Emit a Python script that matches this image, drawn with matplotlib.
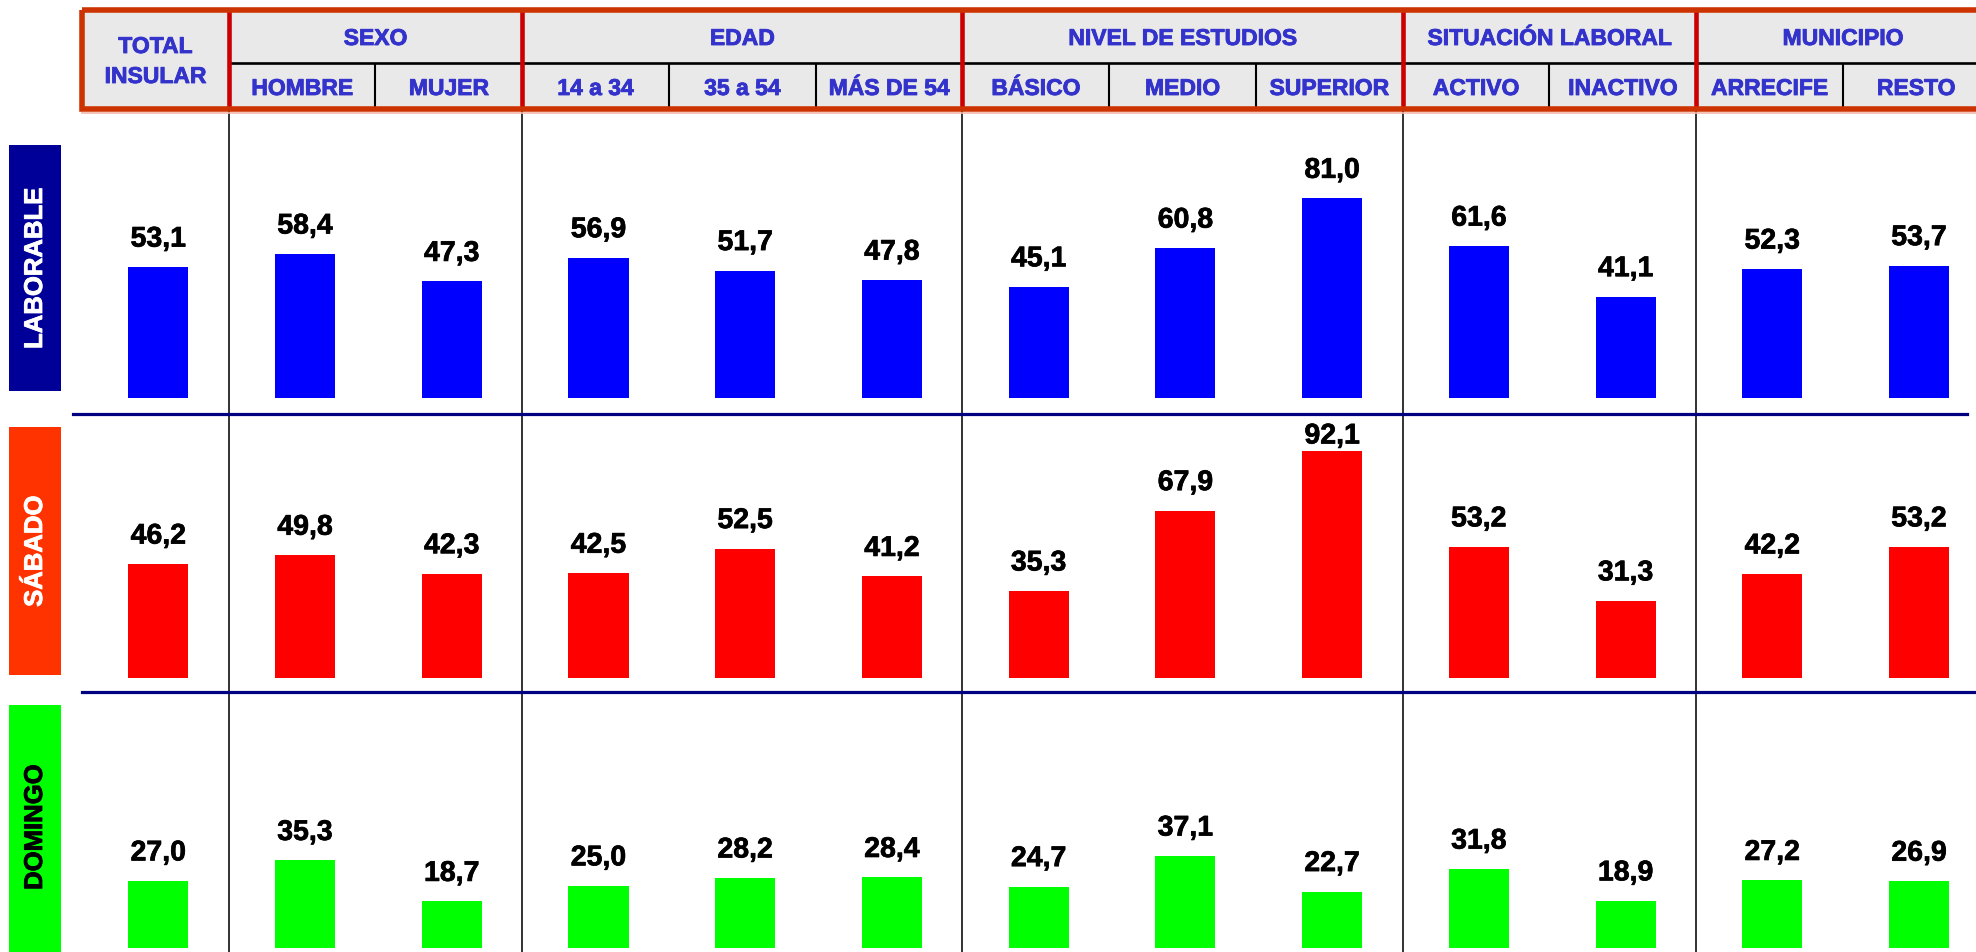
import matplotlib
matplotlib.use("Agg")
import matplotlib.pyplot as plt
import matplotlib.patheffects as pe
from matplotlib.patches import Rectangle

plt.rcParams['font.family'] = ['Liberation Sans', 'DejaVu Sans']

# ---------------- data ----------------
categories = ["TOTAL\nINSULAR", "HOMBRE", "MUJER", "14 a 34", "35 a 54", "MÁS DE 54",
              "BÁSICO", "MEDIO", "SUPERIOR", "ACTIVO", "INACTIVO", "ARRECIFE", "RESTO"]
groups = ["SEXO", "EDAD", "NIVEL DE ESTUDIOS", "SITUACIÓN LABORAL", "MUNICIPIO"]
group_sizes = [2, 3, 3, 2, 2]
row_labels = ["LABORABLE", "SÁBADO", "DOMINGO"]
laborable = [53.1, 58.4, 47.3, 56.9, 51.7, 47.8, 45.1, 60.8, 81.0, 61.6, 41.1, 52.3, 53.7]
sabado = [46.2, 49.8, 42.3, 42.5, 52.5, 41.2, 35.3, 67.9, 92.1, 53.2, 31.3, 42.2, 53.2]
domingo = [27.0, 35.3, 18.7, 25.0, 28.2, 28.4, 24.7, 37.1, 22.7, 31.8, 18.9, 27.2, 26.9]

# ---------------- layout (pixels) ----------------
W, H = 1976, 953
X0, CW = 82.0, 146.73
HEAD_TOP, HEAD_MID, HEAD_BOT = 10.5, 64.3, 109.5
PX_PER_UNIT = 2.465
HEAD_COLOR = '#3333CC'


def heavy(color, w=0.7):
    return [pe.withStroke(linewidth=w, foreground=color)]


fig = plt.figure(figsize=(W / 100, H / 100), dpi=100)

over = fig.add_axes([0, 0, 1, 1])
over.set_xlim(0, W)
over.set_ylim(H, 0)
over.axis('off')


def colx(i):
    return X0 + (i + 0.5) * CW


def edge(k):
    return X0 + k * CW


# header background
over.add_patch(Rectangle((X0, HEAD_TOP), W, HEAD_BOT - HEAD_TOP,
                         facecolor='#E9E9E9', edgecolor='none', zorder=1))
# group boundaries
bounds = [1]
for s in group_sizes:
    bounds.append(bounds[-1] + s)
group_edges = bounds[:-1]
for b in group_edges:
    over.plot([edge(b), edge(b)], [HEAD_TOP, HEAD_BOT], color='#CC0000', lw=3.3, zorder=3,
              solid_capstyle='butt')
    over.plot([edge(b), edge(b)], [HEAD_BOT, H], color='#222222', lw=1.3, zorder=2,
              solid_capstyle='butt')
# sub boundaries
for gi, s in enumerate(group_sizes):
    for k in range(1, s):
        e = edge(bounds[gi] + k)
        over.plot([e, e], [HEAD_MID, HEAD_BOT], color='black', lw=1.5, zorder=2,
                  solid_capstyle='butt')
# mid line
over.plot([edge(1), W], [HEAD_MID, HEAD_MID], color='black', lw=1.9, zorder=2)
# outer border
over.add_patch(Rectangle((X0, HEAD_TOP), 13 * CW, HEAD_BOT - HEAD_TOP,
                         facecolor='none', edgecolor='#CC3300', lw=4, zorder=4))
over.plot([X0, W], [HEAD_BOT + 4.5, HEAD_BOT + 4.5], color='#F0B8A8', lw=1.2, zorder=3)

# header texts
hfs = 16.5
hkw = dict(ha='center', va='baseline', fontsize=hfs, fontweight='bold', color=HEAD_COLOR,
           zorder=5, path_effects=heavy(HEAD_COLOR, 0.6))
over.text(colx(0), 54, categories[0].split("\n")[0], **hkw)
over.text(colx(0), 84, categories[0].split("\n")[1], **hkw)
for gi, g in enumerate(groups):
    cx = (edge(bounds[gi]) + edge(bounds[gi + 1])) / 2
    over.text(cx, 46, g, **hkw)
for i in range(1, len(categories)):
    over.text(colx(i), 96, categories[i], **hkw)

# navy separators
over.plot([73, 1967], [414.5, 414.5], color='#000080', lw=2.3, zorder=3)
over.plot([82, W], [693, 693], color='#000080', lw=2.3, zorder=3)

# row label boxes
boxes = [(146, 392, '#000099', 'white'), (428, 676, '#FF3300', 'white'), (706, 960, '#00FF00', 'black')]
for (y0, y1, fc, tc), lab in zip(boxes, row_labels):
    over.add_patch(Rectangle((9, y0), 52, y1 - y0, facecolor=fc, edgecolor='none', zorder=2))
    yc = (y0 + y1) / 2 if y1 < H else 828
    over.text(35, yc, lab, rotation=90, ha='center', va='center', fontsize=18.5,
              fontweight='bold', color=tc, zorder=5, path_effects=heavy(tc, 0.6))

# ---------------- bars ----------------
rows = [(laborable, '#0000FF', 399.0, HEAD_BOT + 3),
        (sabado, '#FF0000', 679.0, 414.5),
        (domingo, '#00FF00', 948.5, 693.0)]
xs = list(range(len(categories)))
GAP_PX = 20.5       # label baseline above bar top
TOP_ROOM_PX = 30.0  # min distance from row top to label baseline
for vals, color, base, top in rows:
    ax = fig.add_axes([X0 / W, 1 - base / H, (W - X0) / W, (base - top) / H])
    ax.set_xlim(-0.5, -0.5 + (W - X0) / CW)
    ymax = (base - top) / PX_PER_UNIT
    ax.set_ylim(0, ymax)
    ax.axis('off')
    ax.patch.set_alpha(0)
    ax.bar([x + 0.02 for x in xs], vals, width=0.41, color=color, zorder=3)
    for x, v in zip(xs, vals):
        ly = min(v + GAP_PX / PX_PER_UNIT, ymax - TOP_ROOM_PX / PX_PER_UNIT)
        ax.text(x + 0.02, ly, f"{v:.1f}".replace('.', ','), ha='center', va='baseline',
                fontsize=20.5, fontweight='bold', color='black', clip_on=False,
                path_effects=heavy('black', 0.5))

fig.savefig('out.png', dpi=100)
